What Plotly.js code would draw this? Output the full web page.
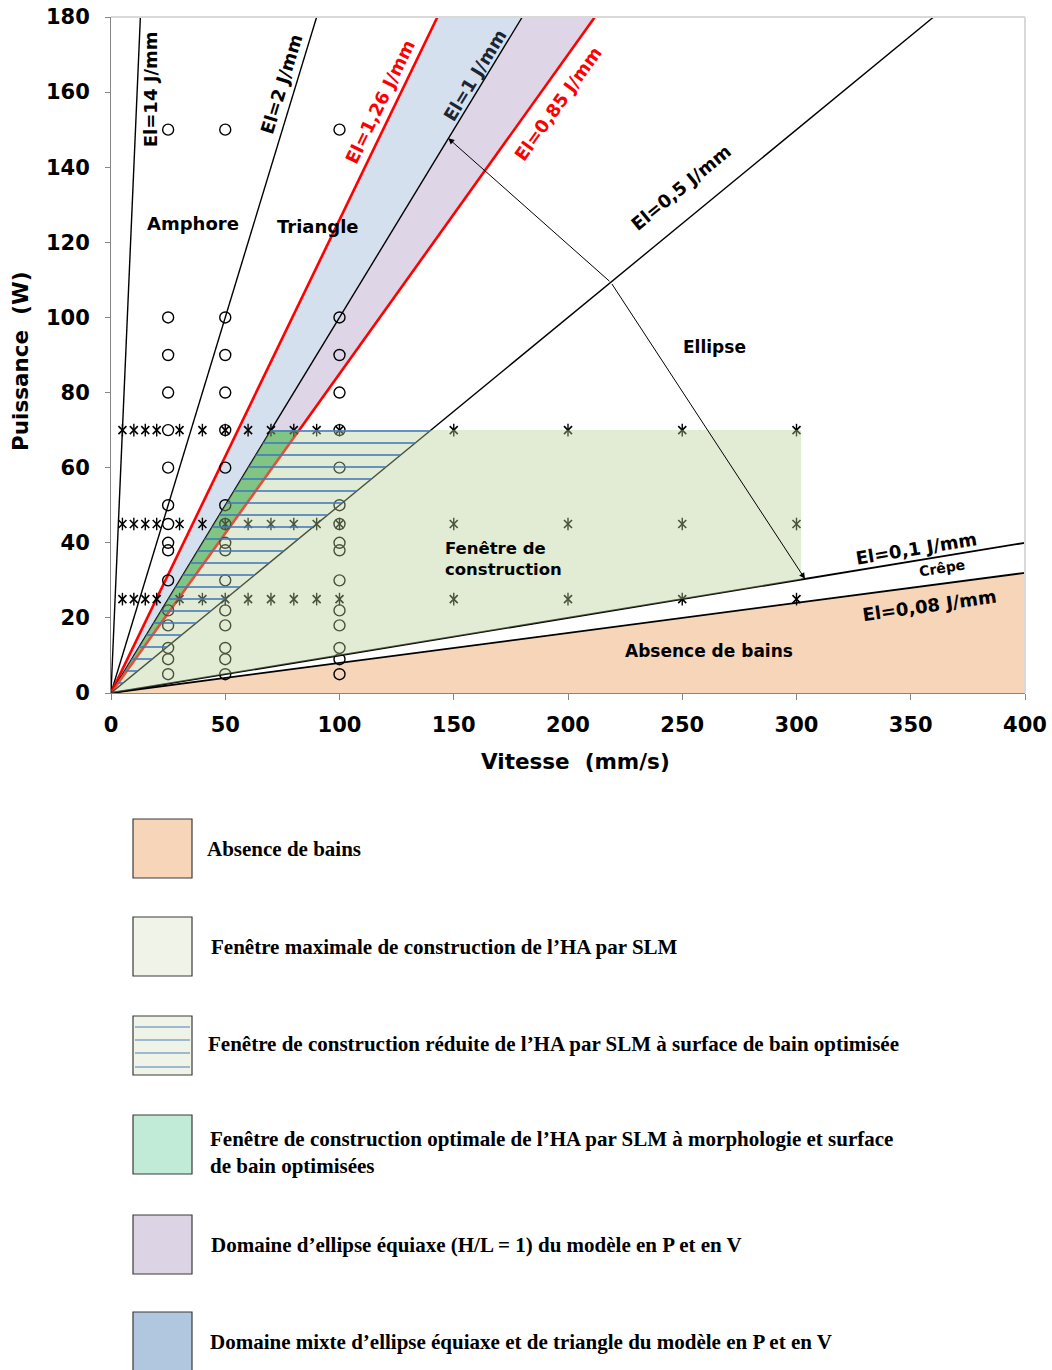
<!DOCTYPE html>
<html><head><meta charset="utf-8">
<script src="https://cdn.plot.ly/plotly-3.0.1.min.js"></script>
<style>html,body{margin:0;padding:0;background:#fff}#chart{width:1052px;height:1370px}</style>
</head><body><div id="chart"></div>
<script>
// ---------------- data ----------------
const energyLevels = [14, 2, 1.26, 1, 0.85, 0.5, 0.1, 0.08];          // El (J/mm)
const energyLabels = ['El=14 J/mm', 'El=2 J/mm', 'El=1,26 J/mm', 'El=1 J/mm',
                      'El=0,85 J/mm', 'El=0,5 J/mm', 'El=0,1 J/mm', 'El=0,08 J/mm'];
const circleSpeeds = [25, 50, 100];                                     // mm/s
const circlePowers = [150, 100, 90, 80, 70, 60, 50, 45, 40, 38, 30, 22, 18, 12, 9, 5]; // W
const starSpeeds = [5, 10, 15, 20, 30, 40, 50, 60, 70, 80, 90, 100, 150, 200, 250, 300];
const starPowers = [70, 45, 25];
const windowPowerMax = 70;     // W, top of the construction window
const windowSpeedMax = 302;    // mm/s, right edge of the construction window
const speedMax = 400;
const powerMax = 180;
const xTickVals = [0, 50, 100, 150, 200, 250, 300, 350, 400];
const yTickVals = [0, 20, 40, 60, 80, 100, 120, 140, 160, 180];
const axisTitles = ['Vitesse  (mm/s)', 'Puissance  (W)'];
const regionLabels = ['Amphore', 'Triangle', 'Ellipse', 'Fenêtre de<br>construction', 'Absence de bains', 'Crêpe'];
const legendLabels = [
  'Absence de bains',
  'Fenêtre maximale de construction de l’HA par SLM',
  'Fenêtre de construction réduite de l’HA par SLM à surface de bain optimisée',
  'Fenêtre de construction optimale de l’HA par SLM à morphologie et surface<br>de bain optimisées',
  'Domaine d’ellipse équiaxe (H/L = 1) du modèle en P et en V',
  'Domaine mixte d’ellipse équiaxe et de triangle du modèle en P et en V'
];

// named energy levels
const [E14, E2, E126, E1, E085, E05, E01, E008] = energyLevels;

// ---------------- helpers ----------------
const FONT = 'DejaVu Sans, Verdana, sans-serif';
const SERIF = 'Liberation Serif, Times New Roman, serif';
function lineEnd(el) { return Math.min(speedMax, powerMax / el); }
function fillTrace(xs, ys, color, extra) {
  return Object.assign({type: 'scatter', mode: 'lines', x: xs, y: ys, fill: 'toself',
    fillcolor: color, line: {width: 0, color: 'rgba(0,0,0,0)'}, hoverinfo: 'skip', showlegend: false}, extra || {});
}
const L = 111, T = 17, W = 914, H = 676;
const pX = px => (px - L) / W;
const pY = py => (T + H - py) / H;

// ---------------- traces ----------------
const traces = [];
traces.push(fillTrace([0, speedMax, speedMax], [0, E008 * speedMax, 0], '#f6d5b9'));
traces.push(fillTrace([0, powerMax / E126, powerMax / E1], [0, powerMax, powerMax], '#d5e0ee'));
traces.push(fillTrace([0, powerMax / E1, powerMax / E085], [0, powerMax, powerMax], '#ded5e6'));
traces.push(fillTrace([0, windowPowerMax / E1, windowPowerMax / E085], [0, windowPowerMax, windowPowerMax], 'rgb(92,192,122)'));

energyLevels.forEach((el) => {
  const v = lineEnd(el);
  const red = (el === E126 || el === E085);
  traces.push({type: 'scatter', mode: 'lines', x: [0, v], y: [0, el * v], hoverinfo: 'skip', showlegend: false,
    line: {color: red ? '#ff0000' : '#000000', width: red ? 2.6 : (el <= E01 ? 1.8 : 1.4)}});
});

const cx = [], cy = [];
circleSpeeds.forEach(v => circlePowers.forEach(p => { cx.push(v); cy.push(p); }));
traces.push({type: 'scatter', mode: 'markers', x: cx, y: cy, hoverinfo: 'skip', showlegend: false,
  marker: {symbol: 'circle-open', size: 11, color: '#000', line: {width: 1.4, color: '#000'}}});
const sx = [], sy = [];
starPowers.forEach(p => starSpeeds.forEach(v => { sx.push(v); sy.push(p); }));
traces.push({type: 'scatter', mode: 'markers', x: sx, y: sy, hoverinfo: 'skip', showlegend: false,
  marker: {symbol: 'x-thin-open', size: 8, color: '#000', line: {width: 1.6, color: '#000'}}});
traces.push({type: 'scatter', mode: 'markers', x: sx, y: sy, hoverinfo: 'skip', showlegend: false,
  marker: {symbol: 'line-ns-open', size: 9, color: '#000', line: {width: 1.4, color: '#000'}}});

traces.push(fillTrace([0, windowPowerMax / E1, windowSpeedMax, windowSpeedMax],
  [0, windowPowerMax, windowPowerMax, E01 * windowSpeedMax], 'rgba(182,205,148,0.4)'));
traces.push(fillTrace([0, windowPowerMax / E1, windowPowerMax / E05], [0, windowPowerMax, windowPowerMax],
  'rgba(0,0,0,0)', {fillpattern: {shape: '-', fgcolor: '#3f78c0', bgcolor: 'rgba(0,0,0,0)', size: 12, solidity: 0.13}}));

// ---------------- annotations ----------------
const ann = [];
const energyLabelPos = [
  [17.1, 160.8, -90, '#000'],
  [74.8, 162.2, -73, '#000'],
  [117.7, 157.6, -64, '#ff0000'],
  [159.3, 164.3, -58.7, '#1b2633'],
  [195.6, 157.1, -54.4, '#ff0000'],
  [249.5, 134.5, -39.4, '#000'],
  [352.3, 38.6, -9.3, '#000'],
  [358.0, 23.2, -8, '#000']
];
energyLabels.forEach((t, i) => {
  const [x, y, a, c] = energyLabelPos[i];
  ann.push({x, y, xref: 'x', yref: 'y', text: t, showarrow: false, textangle: a,
    font: {family: FONT, size: 18, color: c, weight: 'bold'}});
});
const regionPos = [
  [35.9, 124.9, 'center', 0, 18], [90.6, 124.1, 'center', 0, 18], [264.3, 92.1, 'center', 0, 17],
  [145.4, 35.7, 'left', 0, 16.5], [261.7, 11.2, 'center', 0, 17], [363.7, 33.3, 'center', -9, 14]
];
regionLabels.forEach((t, i) => {
  const [x, y, xa, a, s] = regionPos[i];
  ann.push({x, y, xref: 'x', yref: 'y', text: t, showarrow: false, xanchor: xa, align: 'left', textangle: a,
    font: {family: FONT, size: s, color: '#000', weight: 'bold'}});
});
const junction = [218.8, 109.3];
const arrowTips = [[147.6, 147.7], [303.7, 30.4]];
arrowTips.forEach(([x, y]) => {
  ann.push({x, y, xref: 'x', yref: 'y', ax: junction[0], ay: junction[1], axref: 'x', ayref: 'y',
    text: '', showarrow: true, arrowhead: 2, arrowsize: 1.2, arrowwidth: 1, arrowcolor: '#000', standoff: 0});
});
// axis titles
ann.push({xref: 'paper', yref: 'paper', x: pX(575), y: pY(762), text: axisTitles[0], showarrow: false,
  xanchor: 'center', yanchor: 'middle', font: {family: FONT, size: 21.5, color: '#000', weight: 'bold'}});
ann.push({xref: 'paper', yref: 'paper', x: pX(21), y: pY(361), text: axisTitles[1], showarrow: false, textangle: -90,
  xanchor: 'center', yanchor: 'middle', font: {family: FONT, size: 21.5, color: '#000', weight: 'bold'}});

// ---------------- legend (below chart) ----------------
const shapes = [
  {type: 'line', xref: 'paper', yref: 'paper', x0: 0, x1: 1, y0: 1, y1: 1, line: {color: '#d9d9d9', width: 2}},
  {type: 'line', xref: 'paper', yref: 'paper', x0: 1, x1: 1, y0: 0, y1: 1, line: {color: '#d9d9d9', width: 2}}
];
const legendBoxes = [
  {top: 819, fill: '#f6d5b9', tx: 205, ty: 849},
  {top: 917, fill: '#f0f4e8', tx: 209, ty: 947},
  {top: 1016, fill: '#f0f4e8', tx: 206, ty: 1044, hatch: [1027, 1040, 1053, 1067]},
  {top: 1115, fill: '#c1ebd7', tx: 208, ty: 1152},
  {top: 1215, fill: '#dcd3e5', tx: 209, ty: 1245},
  {top: 1312, fill: '#b1c7e0', tx: 208, ty: 1342}
];
legendBoxes.forEach((b, i) => {
  shapes.push({type: 'rect', xref: 'paper', yref: 'paper', x0: pX(133), x1: pX(192), y0: pY(b.top), y1: pY(b.top + 59),
    fillcolor: b.fill, line: {color: '#3a3a3a', width: 1.2}});
  (b.hatch || []).forEach(h => shapes.push({type: 'line', xref: 'paper', yref: 'paper', x0: pX(135), x1: pX(190),
    y0: pY(h), y1: pY(h), line: {color: '#4a7ebb', width: 1.2}}));
  ann.push({xref: 'paper', yref: 'paper', x: pX(b.tx), y: pY(b.ty), xanchor: 'left', yanchor: 'middle', align: 'left',
    text: legendLabels[i], showarrow: false, font: {family: SERIF, size: 21, color: '#000', weight: 'bold'}});
});

// ---------------- layout ----------------
const layout = {
  width: 1052, height: 1370,
  margin: {l: L, r: 1052 - L - W, t: T, b: 1370 - T - H, pad: 0},
  paper_bgcolor: '#fff', plot_bgcolor: '#fff',
  showlegend: false,
  xaxis: {range: [0, speedMax], tickvals: xTickVals, showgrid: false, zeroline: false,
    showline: true, linecolor: '#868686', linewidth: 1, ticks: 'outside', ticklen: 6, tickcolor: '#868686',
    tickfont: {family: FONT, size: 21, color: '#000', weight: 'bold'}, ticklabelstandoff: 7},
  yaxis: {range: [0, powerMax], tickvals: yTickVals, showgrid: false, zeroline: false,
    showline: true, linecolor: '#868686', linewidth: 1, ticks: 'outside', ticklen: 5, tickcolor: '#868686',
    tickfont: {family: FONT, size: 21, color: '#000', weight: 'bold'}, ticklabelstandoff: 11},
  shapes: shapes,
  annotations: ann
};
Plotly.newPlot('chart', traces, layout, {displayModeBar: false, staticPlot: true});
</script></body></html>
